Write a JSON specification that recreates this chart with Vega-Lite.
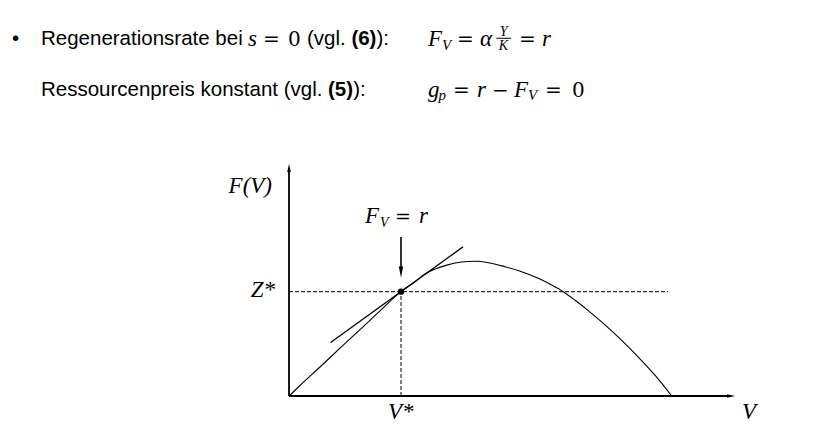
{
  "$schema": "https://vega.github.io/schema/vega-lite/v6.json",
  "width": 446,
  "height": 232,
  "autosize": {"type": "none"},
  "padding": {"left": 289, "top": 164, "right": 92, "bottom": 52},
  "background": "white",
  "config": {"view": {"stroke": null}},
  "datasets": {
    "axesLines": [
      {"v": 0, "f": 0, "v2": 0, "f2": 97},
      {"v": 0, "f": 0, "v2": 98.2, "f2": 0}
    ],
    "headUp": [{"v": 0, "f": 98.28}],
    "headRight": [{"v": 99.1, "f": 0}],
    "headDown": [{"v": 25.11, "f": 53.45}],
    "shaft": [{"v": 25.11, "f": 68.53, "v2": 25.11, "f2": 55.0}],
    "curve": [
      {"v": 0, "f": 0}, {"v": 2.47, "f": 4.53}, {"v": 6.95, "f": 12.5}, {"v": 11.43, "f": 20.6},
      {"v": 15.92, "f": 28.6}, {"v": 20.4, "f": 36.7}, {"v": 25.11, "f": 44.96}, {"v": 28.25, "f": 49.27},
      {"v": 31.17, "f": 53.3}, {"v": 34.98, "f": 56.2}, {"v": 38.72, "f": 57.76}, {"v": 41.7, "f": 58.06},
      {"v": 44.69, "f": 57.46}, {"v": 48.43, "f": 55.73}, {"v": 52.17, "f": 53.58}, {"v": 55.9, "f": 50.73},
      {"v": 58.9, "f": 47.84}, {"v": 61.5, "f": 44.96}, {"v": 64.3, "f": 41.03}, {"v": 67.11, "f": 36.81},
      {"v": 70.85, "f": 30.64}, {"v": 74.6, "f": 23.97}, {"v": 78.32, "f": 16.77}, {"v": 82.06, "f": 8.97},
      {"v": 85.81, "f": 0}
    ],
    "tangent": [{"v": 9.33, "f": 23.03, "v2": 39.01, "f2": 64.28}],
    "dashed": [
      {"v": 0, "f": 44.96, "v2": 84.98, "f2": 44.96},
      {"v": 25.11, "f": 0, "v2": 25.11, "f2": 44.96}
    ],
    "point": [{"v": 25.11, "f": 44.96}],
    "sansText": [
      {"v": -62.11, "f": 151.29, "t": "•"},
      {"v": -55.61, "f": 151.29, "t": "Regenerationsrate bei"},
      {"v": 4.04, "f": 151.29, "t": "(vgl."},
      {"v": 19.62, "f": 151.29, "t": "):"},
      {"v": -55.61, "f": 129.31, "t": "Ressourcenpreis konstant (vgl."},
      {"v": 14.39, "f": 129.31, "t": "):"}
    ],
    "boldText": [
      {"v": 13.99, "f": 151.29, "t": "(6)"},
      {"v": 8.74, "f": 129.31, "t": "(5)"}
    ],
    "mathIt": [
      {"v": -9.19, "f": 150.86, "t": "s"},
      {"v": 31.17, "f": 150.86, "t": "F"},
      {"v": 42.83, "f": 150.86, "t": "α"},
      {"v": 56.73, "f": 150.86, "t": "r"},
      {"v": 31.17, "f": 129.09, "t": "g"},
      {"v": 42.15, "f": 129.09, "t": "r"},
      {"v": 50.45, "f": 129.09, "t": "F"}
    ],
    "mathRm": [
      {"v": -5.83, "f": 150.86, "t": "="},
      {"v": -0.22, "f": 150.86, "t": "0"},
      {"v": 37.67, "f": 150.86, "t": "="},
      {"v": 51.57, "f": 150.86, "t": "="},
      {"v": 36.77, "f": 129.09, "t": "="},
      {"v": 45.52, "f": 129.09, "t": "−"},
      {"v": 57.4, "f": 129.09, "t": "="},
      {"v": 63.45, "f": 129.09, "t": "0"}
    ],
    "mathSub": [
      {"v": 34.3, "f": 149.35, "t": "V"},
      {"v": 33.52, "f": 127.8, "t": "p"},
      {"v": 53.59, "f": 127.8, "t": "V"}
    ],
    "mathFrac": [
      {"v": 48.1, "f": 155.17, "t": "Y"},
      {"v": 48.1, "f": 149.35, "t": "K"}
    ],
    "fracBar": [{"v": 46.5, "f": 154.2, "v2": 49.8, "f2": 154.2}],
    "labelIt": [
      {"v": 22.2, "f": -9.91, "t": "V*"},
      {"v": 101.57, "f": -9.91, "t": "V"},
      {"v": 17.04, "f": 74.57, "t": "F"},
      {"v": 29.15, "f": 74.57, "t": "r"}
    ],
    "labelItR": [
      {"v": -3.81, "f": 87.5, "t": "F(V)"},
      {"v": -3.14, "f": 42.67, "t": "Z*"}
    ],
    "labelRm": [{"v": 23.77, "f": 74.57, "t": "="}],
    "labelSub": [{"v": 20.4, "f": 72.84, "t": "V"}]
  },
  "encoding": {
    "x": {"field": "v", "type": "quantitative", "scale": {"domain": [0, 100], "nice": false, "zero": false}, "axis": null},
    "y": {"field": "f", "type": "quantitative", "scale": {"domain": [0, 100], "nice": false, "zero": false}, "axis": null}
  },
  "layer": [
    {"data": {"name": "dashed"}, "mark": {"type": "rule", "strokeWidth": 1, "color": "black", "strokeDash": [4, 2]},
     "encoding": {"x2": {"field": "v2"}, "y2": {"field": "f2"}}},
    {"data": {"name": "curve"}, "mark": {"type": "line", "interpolate": "monotone", "strokeWidth": 1.1, "color": "black"}, "encoding": {}},
    {"data": {"name": "tangent"}, "mark": {"type": "rule", "strokeWidth": 1.3, "color": "black"},
     "encoding": {"x2": {"field": "v2"}, "y2": {"field": "f2"}}},
    {"data": {"name": "axesLines"}, "mark": {"type": "rule", "strokeWidth": 1.8, "color": "black"},
     "encoding": {"x2": {"field": "v2"}, "y2": {"field": "f2"}}},
    {"data": {"name": "shaft"}, "mark": {"type": "rule", "strokeWidth": 1.6, "color": "black"},
     "encoding": {"x2": {"field": "v2"}, "y2": {"field": "f2"}}},
    {"data": {"name": "headUp"}, "mark": {"type": "point", "shape": "M0,-1L0.45,1L-0.45,1Z", "filled": true, "size": 64, "color": "black", "opacity": 1}},
    {"data": {"name": "headRight"}, "mark": {"type": "point", "shape": "M1,0L-1,0.45L-1,-0.45Z", "filled": true, "size": 64, "color": "black", "opacity": 1}},
    {"data": {"name": "headDown"}, "mark": {"type": "point", "shape": "M0,1L-0.4,-1L0.4,-1Z", "filled": true, "size": 121, "color": "black", "opacity": 1}},
    {"data": {"name": "point"}, "mark": {"type": "point", "shape": "circle", "filled": true, "size": 40, "color": "black", "opacity": 1}},
    {"data": {"name": "sansText"}, "mark": {"type": "text", "font": "Liberation Sans", "fontSize": 20.5, "align": "left", "baseline": "alphabetic", "color": "black"},
     "encoding": {"text": {"field": "t", "type": "nominal"}}},
    {"data": {"name": "boldText"}, "mark": {"type": "text", "font": "Liberation Sans", "fontSize": 20.5, "fontWeight": "bold", "align": "left", "baseline": "alphabetic", "color": "black"},
     "encoding": {"text": {"field": "t", "type": "nominal"}}},
    {"data": {"name": "mathIt"}, "mark": {"type": "text", "font": "Liberation Serif", "fontSize": 23, "fontStyle": "italic", "align": "left", "baseline": "alphabetic", "color": "black"},
     "encoding": {"text": {"field": "t", "type": "nominal"}}},
    {"data": {"name": "mathRm"}, "mark": {"type": "text", "font": "DejaVu Serif", "fontSize": 20, "fontWeight": "lighter", "align": "left", "baseline": "alphabetic", "color": "black"},
     "encoding": {"text": {"field": "t", "type": "nominal"}}},
    {"data": {"name": "mathSub"}, "mark": {"type": "text", "font": "Liberation Serif", "fontSize": 15, "fontStyle": "italic", "align": "left", "baseline": "alphabetic", "color": "black"},
     "encoding": {"text": {"field": "t", "type": "nominal"}}},
    {"data": {"name": "mathFrac"}, "mark": {"type": "text", "font": "Liberation Serif", "fontSize": 14, "fontStyle": "italic", "align": "center", "baseline": "alphabetic", "color": "black"},
     "encoding": {"text": {"field": "t", "type": "nominal"}}},
    {"data": {"name": "fracBar"}, "mark": {"type": "rule", "strokeWidth": 1, "color": "black"},
     "encoding": {"x2": {"field": "v2"}, "y2": {"field": "f2"}}},
    {"data": {"name": "labelIt"}, "mark": {"type": "text", "font": "Liberation Serif", "fontSize": 23, "fontStyle": "italic", "align": "left", "baseline": "alphabetic", "color": "black"},
     "encoding": {"text": {"field": "t", "type": "nominal"}}},
    {"data": {"name": "labelItR"}, "mark": {"type": "text", "font": "Liberation Serif", "fontSize": 23, "fontStyle": "italic", "align": "right", "baseline": "alphabetic", "color": "black"},
     "encoding": {"text": {"field": "t", "type": "nominal"}}},
    {"data": {"name": "labelRm"}, "mark": {"type": "text", "font": "DejaVu Serif", "fontSize": 19, "align": "left", "baseline": "alphabetic", "color": "black"},
     "encoding": {"text": {"field": "t", "type": "nominal"}}},
    {"data": {"name": "labelSub"}, "mark": {"type": "text", "font": "Liberation Serif", "fontSize": 14, "fontStyle": "italic", "align": "left", "baseline": "alphabetic", "color": "black"},
     "encoding": {"text": {"field": "t", "type": "nominal"}}}
  ]
}
